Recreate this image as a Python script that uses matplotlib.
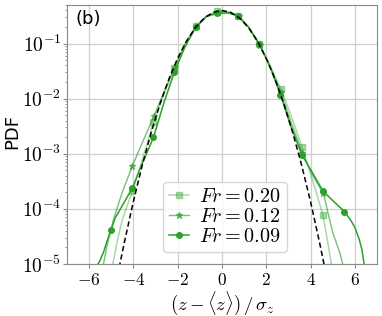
import numpy as np
import matplotlib
matplotlib.use("Agg")
import matplotlib.pyplot as plt
from matplotlib.ticker import LogLocator, NullFormatter

plt.rcParams["font.family"] = "serif"
plt.rcParams["font.serif"] = ["cmr10"]
plt.rcParams["mathtext.fontset"] = "cm"
plt.rcParams["axes.formatter.use_mathtext"] = True
plt.rcParams["axes.unicode_minus"] = True

# Fr = 0.20 (lightest, squares)
x_020 = [-4.96, -4.74, -4.5, -4.04, -3.55, -3.09, -2.62, -2.15, -1.67, -1.18, -0.7, -0.21,
         0.26, 0.73, 1.2, 1.68, 2.16, 2.66, 3.14, 3.62, 4.1, 4.56, 4.75, 4.97]
pdf_020 = [8.5e-6, 2.4e-5, 6.3e-5, 2.1e-4, 8.9e-4, 3.8e-3, 1.2e-2, 3.55e-2, 9.8e-2, 0.204, 0.316, 0.389,
           0.38, 0.316, 0.195, 0.098, 0.0398, 0.0151, 4.7e-3, 1.3e-3, 3.2e-4, 7.7e-5, 2.8e-5, 8.5e-6]
mk_020 = [3, 5, 7, 9, 11, 13, 15, 17, 19, 21]

# Fr = 0.12 (medium, stars)
x_012 = [-5.38, -5.2, -4.9, -4.5, -4.04, -3.55, -3.06, -2.6, -2.13, -1.65, -1.16, -0.68, -0.2,
         0.28, 0.75, 1.22, 1.7, 2.18, 2.66, 3.14, 3.62, 4.1, 4.58, 4.79, 5.01, 5.32, 5.49]
pdf_012 = [8.5e-6, 2.0e-5, 6.3e-5, 2.0e-4, 6.0e-4, 1.74e-3, 4.9e-3, 1.38e-2, 3.7e-2, 0.1, 0.204, 0.316, 0.372,
           0.372, 0.316, 0.195, 0.0955, 0.038, 0.0132, 3.55e-3, 1.05e-3, 4.0e-4, 1.9e-4, 8.3e-5, 3.6e-5, 1.6e-5, 8.5e-6]
mk_012 = [4, 6, 8, 10, 12, 14, 16, 18, 20, 22]

# Fr = 0.09 (dark, circles)
x_009 = [-5.7, -5.5, -5.42, -5.35, -5.2, -5.0, -4.82, -4.52, -4.04, -3.6, -3.09, -2.62, -2.15,
         -1.67, -1.18, -0.7, -0.21, 0.26, 0.73, 1.2, 1.68, 2.16, 2.64, 3.13, 3.62, 4.1,
         4.56, 5.05, 5.53, 5.8, 6.0, 6.2, 6.32, 6.44]
pdf_009 = [8.5e-6, 1.15e-5, 1.4e-5, 1.6e-5, 2.5e-5, 4.2e-5, 6.8e-5, 1.1e-4, 2.4e-4, 6.6e-4, 1.97e-3, 8.4e-3, 3.0e-2,
           8.7e-2, 0.197, 0.31, 0.353, 0.359, 0.32, 0.2, 0.099, 0.039, 0.0118, 3.0e-3, 9.4e-4, 4.4e-4,
           2.1e-4, 1.35e-4, 8.9e-5, 6.3e-5, 4.6e-5, 2.75e-5, 1.8e-5, 8.5e-6]
mk_009 = [5, 8, 10, 12, 14, 16, 18, 20, 22, 24, 26, 28]

# standard normal reference
x_gauss = [-4.64, -4.4, -4.0, -3.6, -3.2, -2.8, -2.4, -2.0, -1.6, -1.2, -0.8, -0.4, 0.0,
           0.4, 0.8, 1.2, 1.6, 2.0, 2.4, 2.8, 3.2, 3.6, 4.0, 4.4, 4.64]
pdf_gauss = [8.5e-6, 2.5e-5, 1.34e-4, 6.12e-4, 2.38e-3, 7.92e-3, 2.24e-2, 5.4e-2, 0.1109, 0.1942, 0.2897, 0.3683, 0.3989,
             0.3683, 0.2897, 0.1942, 0.1109, 5.4e-2, 2.24e-2, 7.92e-3, 2.38e-3, 6.12e-4, 1.34e-4, 2.5e-5, 8.5e-6]

green = "#2ca02c"

fig = plt.figure(figsize=(3.82, 3.16), dpi=100)
ax = fig.add_axes([0.175, 0.165, 0.812, 0.819])

ax.plot(x_020, pdf_020, color=green, alpha=0.4, lw=1.1, marker="s", ms=4,
        markevery=mk_020, label=r"$Fr=0.20$")
ax.plot(x_012, pdf_012, color=green, alpha=0.65, lw=1.0, marker="*", ms=4.5,
        markevery=mk_012, label=r"$Fr=0.12$")
ax.plot(x_009, pdf_009, color=green, alpha=1.0, lw=1.1, marker="o", ms=4,
        markevery=mk_009, label=r"$Fr=0.09$")
ax.plot(x_gauss, pdf_gauss, color="black", lw=1.1, ls=(0, (3.5, 2)))

ax.set_yscale("log")
ax.set_xlim(-7, 7)
ax.set_ylim(1e-5, 0.5)
ax.set_xticks([-6, -4, -2, 0, 2, 4, 6])
ax.yaxis.set_major_locator(LogLocator(base=10, numticks=10))
ax.yaxis.set_minor_locator(LogLocator(base=10, subs=np.arange(2, 10), numticks=20))
ax.yaxis.set_minor_formatter(NullFormatter())

ax.grid(True, which="major", color="#cfcfcf", lw=0.9)
ax.set_axisbelow(True)
for s in ax.spines.values():
    s.set_color("#8a8a8a")
ax.tick_params(which="major", length=3, color="#8a8a8a")
ax.tick_params(axis="x", which="major", labelsize=12.5, pad=3)
ax.tick_params(axis="y", which="major", labelsize=14, pad=1)
ax.tick_params(which="minor", length=1.5, color="#8a8a8a")

ax.set_xlabel(r"$(z-\langle z\rangle)\,/\,\sigma_z$", fontsize=13.5)
ax.xaxis.set_label_coords(0.5, -0.1)
ax.set_ylabel("PDF", family="DejaVu Sans", fontsize=13)
ax.yaxis.set_label_coords(-0.148, 0.51)
ax.text(0.028, 0.98, "(b)", transform=ax.transAxes, family="DejaVu Sans",
        fontsize=13, va="top", ha="left")

ax.legend(loc="lower center", bbox_to_anchor=(0.51, 0.046), borderaxespad=0,
          fontsize=14.5, handlelength=1.0, handletextpad=0.5, labelspacing=0.1,
          borderpad=0.3, framealpha=0.8, edgecolor="#cccccc")

fig.savefig("out.png", dpi=100)
